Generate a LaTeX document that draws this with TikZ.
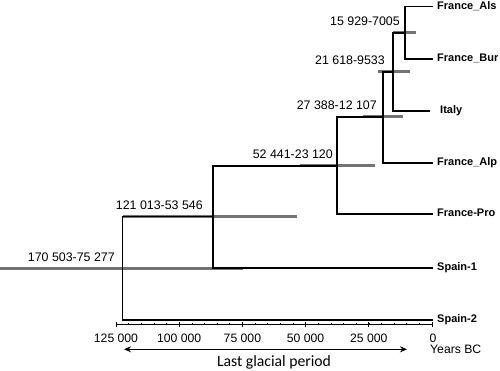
\documentclass[tikz,border=0pt]{standalone}
\usepackage{fontspec}
\setmainfont{Liberation Sans}
\newfontfamily\calibrifont{Carlito}
\usetikzlibrary{arrows.meta, positioning}

\tikzset{
  branch/.style={draw=black, line width=1.1pt},
  hpd/.style={draw=black!55, line width=3pt},
  age/.style={inner sep=0pt, anchor=base east, font=\fontsize{12.4}{14}\selectfont},
  tip/.style={inner ysep=0pt, inner xsep=4pt, anchor=mid west, font=\fontsize{11}{13}\selectfont\bfseries},
  ticklab/.style={inner sep=0pt, anchor=base, font=\fontsize{12.2}{14}\selectfont}
}

\begin{document}
\begin{tikzpicture}[x=1pt, y=-1pt]
  \useasboundingbox (0,0) rectangle (500,371);

  % internal nodes of the tree
  \coordinate (nAB) at (405,33);
  \coordinate (nIt) at (393,72);
  \coordinate (nAlp) at (383,117);
  \coordinate (nPro) at (337,166);
  \coordinate (nSp) at (213,216.7);
  \coordinate (nRoot) at (122.5,268);

  % tips
  \node[tip] (als) at (433,6.7) {France\_Als};
  \node[tip] (bur) at (433,59) {France\_Bur};
  \node[tip, inner xsep=10pt] (ita) at (430,111) {Italy};
  \node[tip] (alp) at (433,163) {France\_Alp};
  \node[tip] (pro) at (433,214) {France-Pro};
  \node[tip] (spa1) at (433,268) {Spain-1};
  \node[tip] (spa2) at (433,320) {Spain-2};

  % 95% intervals
  \draw[hpd] (393,33) -- (416,33);
  \draw[hpd] (378,72) -- (410,72);
  \draw[hpd] (363,117) -- (403,117);
  \draw[hpd] (300,166) -- (375,166);
  \draw[hpd] (122.5,216.7) -- (297,216.7);
  \draw[hpd] (0,268) -- (243,268);

  % branches
  \draw[branch] (als.mid west) -| (nAB) |- (bur.mid west);
  \draw[branch] (nIt) |- (nAB);
  \draw[branch] (nIt) |- (ita.mid west);
  \draw[branch] (nAlp) |- (nIt);
  \draw[branch] (nAlp) |- (alp.mid west);
  \draw[branch] (nPro) |- (nAlp);
  \draw[branch] (nPro) |- (pro.mid west);
  \draw[branch] (nSp) |- (nPro);
  \draw[branch] (nSp) |- (spa1.mid west);
  \draw[branch] (nRoot) |- (nSp);
  \draw[branch] (nRoot) |- (spa2.mid west);

  % node ages
  \node[age] (aAB) at (400,26) {15 929-7005};
  \node[age] (aIt) at (385,65) {21 618-9533};
  \node[age] (aAlp) at (377,110) {27 388-12 107};
  \node[age] (aPro) at (333,159) {52 441-23 120};
  \node[age] (aSp) at (203,209.5) {121 013-53 546};
  \node[age] (aRoot) at (115,261.5) {170 503-75 277};

  % time axis
  \draw[line width=0.8pt] (116,324.5) -- (432,324.5);
  \foreach \i in {0,...,25}
    \draw[line width=0.6pt] (116+12.64*\i,324.5) -- (116+12.64*\i,322.5);
  \foreach \i in {0,...,5}
    \draw[line width=0.8pt] (116+63.2*\i,322) -- (116+63.2*\i,327);
  \node[ticklab] (t0) at (116,342) {125 000};
  \node[ticklab] (t1) at (179.2,342) {100 000};
  \node[ticklab] (t2) at (242.4,342) {75 000};
  \node[ticklab] (t3) at (305.6,342) {50 000};
  \node[ticklab] (t4) at (368.8,342) {25 000};
  \node[ticklab] (t5) at (433,342) {0};
  \node[ticklab, anchor=base west] (unit) at (430,353) {Years BC};

  % last glacial period
  \coordinate (gl1) at (124,349.3);
  \coordinate (gl2) at (407,349.3);
  \draw[line width=1.4pt, {Stealth[length=7pt,width=6pt]}-{Stealth[length=7pt,width=6pt]}] (gl1) -- (gl2);
  \node[inner sep=0pt, anchor=base, font=\calibrifont\fontsize{15.7}{18}\selectfont] (glac) at (274,366) {Last glacial period};
\end{tikzpicture}
\end{document}
